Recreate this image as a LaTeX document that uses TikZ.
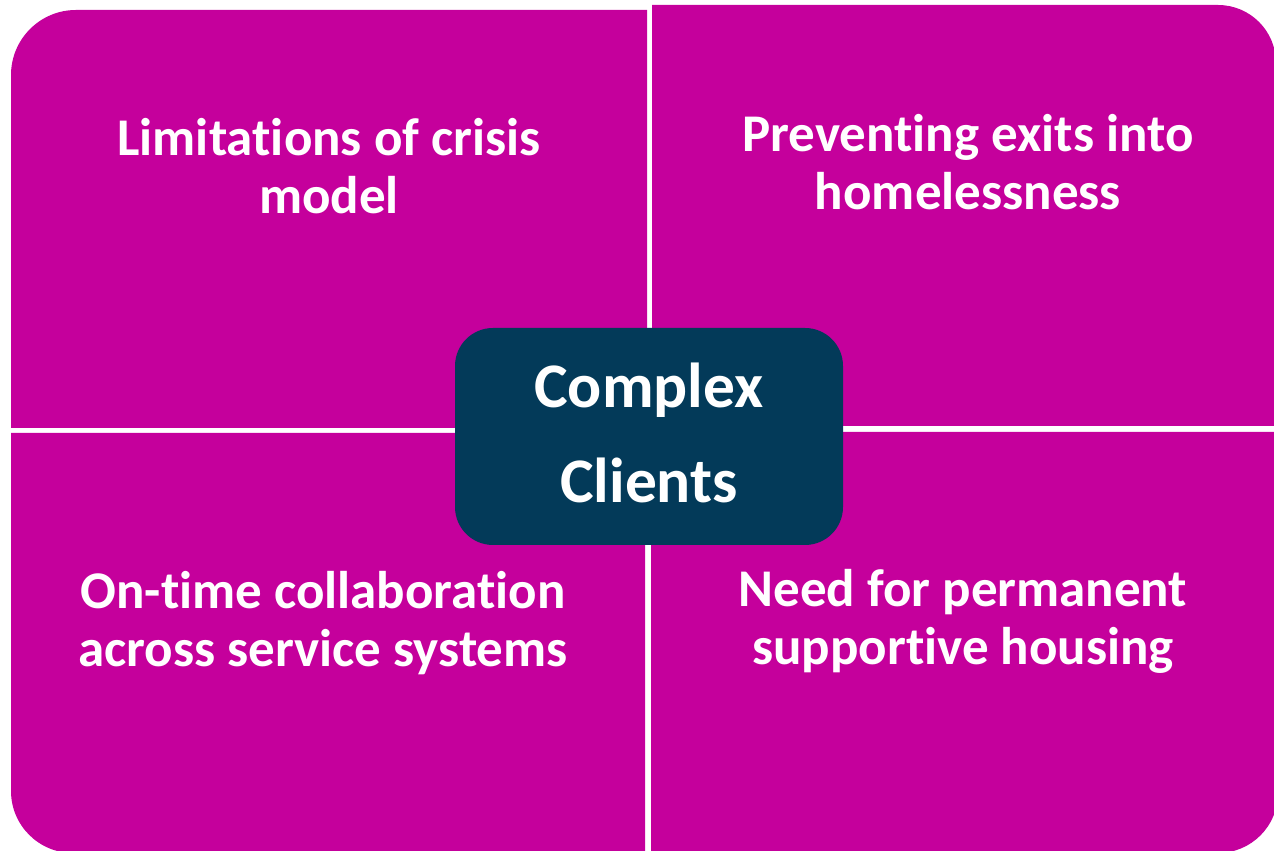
\documentclass[tikz,border=0pt]{standalone}
\usepackage{fontspec}
\setmainfont[Ligatures=NoCommon]{Carlito}
\definecolor{quadfill}{HTML}{C5009C}
\definecolor{corefill}{HTML}{033A59}
\begin{document}
\begin{tikzpicture}[x=1pt,y=1pt,
  quad/.style={fill=quadfill},
  quadtext/.style={text=white,font=\fontsize{53}{58}\selectfont\bfseries,align=center,inner sep=0pt},
  core/.style={fill=corefill,rounded corners=38pt,text=white,
    font=\fontsize{63.5}{95}\selectfont\bfseries,align=center,inner sep=0pt}]
\useasboundingbox (0,0) rectangle (1274,851);
% four quadrants, each with one rounded outer corner
\fill[quad] (11,423) -- (11,776) arc[start angle=180,end angle=90,radius=65] -- (647,841) -- (647,423) -- cycle;
\fill[quad] (652,425) -- (652,846) -- (1218,846) arc[start angle=90,end angle=0,radius=58] -- (1276,425) -- cycle;
\fill[quad] (645,418) -- (11,418) -- (11,60) arc[start angle=180,end angle=270,radius=62] -- (645,-2) -- cycle;
\fill[quad] (651,419) -- (1278,419) -- (1278,58) arc[start angle=0,end angle=-90,radius=60] -- (651,-2) -- cycle;
% quadrant labels
\node[quadtext] (tl) at (329,685) {Limitations of crisis\\model};
\node[quadtext] (tr) at (968,689) {Preventing exits into\\homelessness};
\node[quadtext] (bl) at (323,228) {On-time collaboration\\across service systems};
\node[quadtext] (br) at (963,230) {Need for permanent\\supportive housing};
% central box
\fill[core] (455,306) rectangle (843,523);
\node[core,fill=none] (center) at (649,418) {Complex\\Clients};
\end{tikzpicture}
\end{document}
